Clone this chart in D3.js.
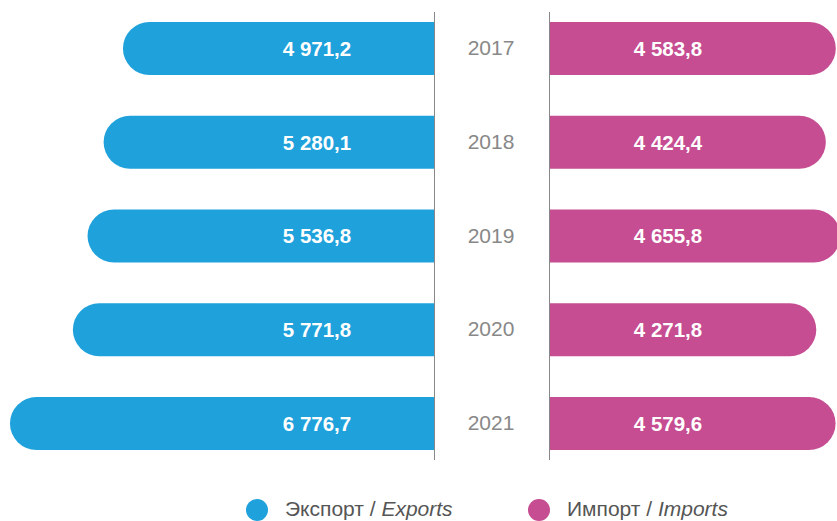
<!DOCTYPE html>
<head>
    <meta charset="utf-8">
    <script src="https://d3js.org/d3.v7.min.js"></script>
    <style>
        html, body { padding: 0; margin: 0; background: #fff; }
        svg { display: block; }
        text { font-family: Arial, "Liberation Sans", Helvetica, sans-serif; }
    </style>
</head>
<body>
<svg width="837" height="521"></svg>
<script>
    var years = ["2017", "2018", "2019", "2020", "2021"];
    var exports = [4971.2, 5280.1, 5536.8, 5771.8, 6776.7];
    var imports = [4583.8, 4424.4, 4655.8, 4271.8, 4579.6];
    var legendLabels = [["Экспорт / ", "Exports"], ["Импорт / ", "Imports"]];

    var blue = "#1fa2dc", pink = "#c64d92";
    var svg = d3.select("svg");

    var expAxisX = 434, impAxisX = 549;

    var y = d3.scaleBand()
        .domain(years)
        .range([1.6, 1.6 + 5 * 93.75])
        .paddingInner(0.435)
        .paddingOuter(0.2175);

    var len = d3.scaleLinear()
        .domain([0, 7000])
        .range([0, 438]);

    var ru = d3.formatLocale({decimal: ",", thousands: "\u00a0", grouping: [3], currency: ["", ""]});
    var fmt = ru.format(",.1f");

    var rows = years.map(function(yr, i) {
        return {year: yr, exp: exports[i], imp: imports[i]};
    });

    // bar with a rounded outer end, dir = -1 grows left, +1 grows right
    function roundBar(x0, yTop, l, h, dir) {
        var r = h / 2;
        var p = d3.path();
        if (dir < 0) {
            p.moveTo(x0, yTop);
            p.lineTo(x0 - l + r, yTop);
            p.arc(x0 - l + r, yTop + r, r, -Math.PI / 2, Math.PI / 2, true);
            p.lineTo(x0, yTop + h);
        } else {
            p.moveTo(x0, yTop);
            p.lineTo(x0 + l - r, yTop);
            p.arc(x0 + l - r, yTop + r, r, -Math.PI / 2, Math.PI / 2, false);
            p.lineTo(x0, yTop + h);
        }
        p.closePath();
        return p.toString();
    }

    var row = svg.selectAll(".row")
        .data(rows)
        .enter()
        .append("g")
        .attr("class", "row");

    row.append("path")
        .attr("fill", blue)
        .attr("d", function(d) { return roundBar(expAxisX, y(d.year), len(d.exp), y.bandwidth(), -1); });

    row.append("path")
        .attr("fill", pink)
        .attr("d", function(d) { return roundBar(impAxisX, y(d.year), len(d.imp), y.bandwidth(), 1); });

    row.append("text")
        .attr("x", 317)
        .attr("y", function(d) { return y(d.year) + y.bandwidth() / 2; })
        .attr("dy", "0.36em")
        .attr("text-anchor", "middle")
        .attr("fill", "#fff")
        .style("font-size", "20.5px")
        .style("font-weight", "bold")
        .text(function(d) { return fmt(d.exp); });

    row.append("text")
        .attr("x", 668)
        .attr("y", function(d) { return y(d.year) + y.bandwidth() / 2; })
        .attr("dy", "0.36em")
        .attr("text-anchor", "middle")
        .attr("fill", "#fff")
        .style("font-size", "20.5px")
        .style("font-weight", "bold")
        .text(function(d) { return fmt(d.imp); });

    row.append("text")
        .attr("x", 491)
        .attr("y", function(d) { return y(d.year) + y.bandwidth() / 2 - 1; })
        .attr("dy", "0.36em")
        .attr("text-anchor", "middle")
        .attr("fill", "#888")
        .style("font-size", "21px")
        .text(function(d) { return d.year; });

    // axis lines
    [expAxisX, impAxisX].forEach(function(x) {
        svg.append("line")
            .attr("x1", x + 0.5).attr("x2", x + 0.5)
            .attr("y1", 12).attr("y2", 460)
            .attr("stroke", "#888")
            .attr("stroke-width", 1);
    });

    // legend
    var legendX = [257, 539];
    var legend = svg.selectAll(".legend")
        .data(legendLabels)
        .enter()
        .append("g")
        .attr("class", "legend")
        .attr("transform", function(d, i) { return "translate(" + legendX[i] + ",510)"; });

    legend.append("circle")
        .attr("r", 11)
        .attr("fill", function(d, i) { return i === 0 ? blue : pink; });

    var lt = legend.append("text")
        .attr("x", 28)
        .attr("y", 6)
        .attr("fill", "#555")
        .style("font-size", "21px");
    lt.append("tspan").text(function(d) { return d[0]; });
    lt.append("tspan").style("font-style", "italic").text(function(d) { return d[1]; });
</script>
</body>
